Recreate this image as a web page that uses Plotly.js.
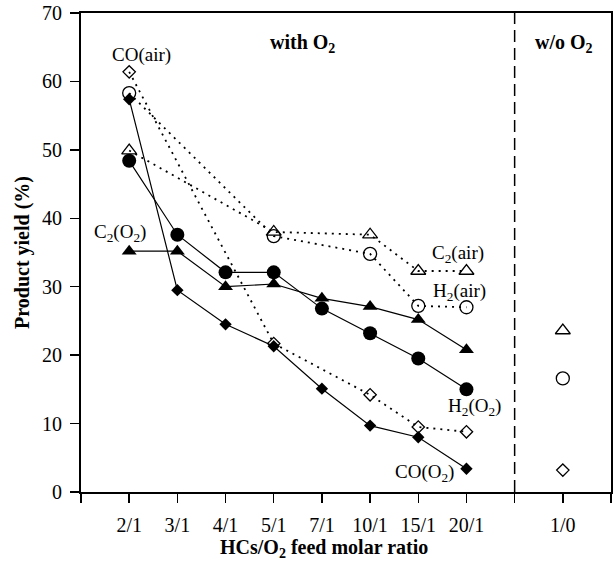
<!DOCTYPE html>
<html>
<head>
<meta charset="utf-8">
<script src="https://cdn.plot.ly/plotly-3.0.1.min.js"></script>
<style>html,body{margin:0;padding:0;background:#fff;}#chart{width:614px;height:561px;}</style>
</head>
<body>
<div id="chart"></div>
<script>
// Category slots on the x axis (spacers have no label)
const slots = ['lead', '2/1', '3/1', '4/1', '5/1', '7/1', '10/1', '15/1', '20/1', 'gap', '1/0', 'tail'];
const slotLabels = ['', '2/1', '3/1', '4/1', '5/1', '7/1', '10/1', '15/1', '20/1', '', '1/0', ''];

// With O2 (filled markers, solid lines)
const ratiosO2 = ['2/1', '3/1', '4/1', '5/1', '7/1', '10/1', '15/1', '20/1'];
const coO2 = [57.4, 29.5, 24.5, 21.3, 15.1, 9.7, 8.0, 3.4];
const h2O2 = [48.4, 37.6, 32.1, 32.1, 26.8, 23.2, 19.5, 15.0];
const c2O2 = [35.2, 35.2, 30.0, 30.4, 28.3, 27.1, 25.2, 20.8];

// With air (open markers, dotted lines)
const ratiosAir = ['2/1', '5/1', '10/1', '15/1', '20/1'];
const coAir = [61.4, 21.7, 14.2, 9.5, 8.8];
const h2Air = [58.3, 37.4, 34.8, 27.2, 27.0];
const c2Air = [49.9, 38.0, 37.6, 32.3, 32.3];

// Without O2
const ratioNoO2 = ['1/0'];
const coNoO2 = [3.2];
const h2NoO2 = [16.6];
const c2NoO2 = [23.6];

// Divider position and y extent
const dividerSlot = 'gap';
const yMin = 0, yMax = 70;

const FONT = "'Liberation Serif', serif";
const dotted = '2px,5px';

function airTrace(y, sym, size) {
  return {x: ratiosAir, y: y, type: 'scatter', mode: 'lines+markers',
    line: {color: '#000', width: 1.8, dash: dotted},
    marker: {symbol: sym, size: size, color: '#000', line: {color: '#000', width: 1.3}},
    showlegend: false, hoverinfo: 'skip', cliponaxis: false};
}
function o2Trace(y, sym, size) {
  return {x: ratiosO2, y: y, type: 'scatter', mode: 'lines+markers',
    line: {color: '#000', width: 1.2},
    marker: {symbol: sym, size: size, color: '#000', line: {width: 0}},
    showlegend: false, hoverinfo: 'skip', cliponaxis: false};
}
function noO2Trace(y, sym, size) {
  return {x: ratioNoO2, y: y, type: 'scatter', mode: 'markers',
    marker: {symbol: sym, size: size, color: '#000', line: {color: '#000', width: 1.3}},
    showlegend: false, hoverinfo: 'skip', cliponaxis: false};
}

const traces = [
  {x: slots, y: slots.map(() => null), type: 'scatter', mode: 'markers', showlegend: false, hoverinfo: 'skip'},
  {x: [dividerSlot, dividerSlot], y: [yMin, yMax], type: 'scatter', mode: 'lines',
    line: {color: '#000', width: 1.5, dash: '12px,6px'}, showlegend: false, hoverinfo: 'skip'},
  airTrace(c2Air, 'triangle-up-open', 13),
  airTrace(h2Air, 'circle-open', 13),
  airTrace(coAir, 'diamond-open', 9.5),
  o2Trace(c2O2, 'triangle-up', 13),
  o2Trace(h2O2, 'circle', 14),
  o2Trace(coO2, 'diamond', 9.5),
  noO2Trace(c2NoO2, 'triangle-up-open', 13),
  noO2Trace(h2NoO2, 'circle-open', 13),
  noO2Trace(coNoO2, 'diamond-open', 9.5)
];

function lab(text, x, y, bold) {
  return {text: bold ? '<b>' + text + '</b>' : text, xref: 'paper', yref: 'paper', x: x, y: y,
    xanchor: 'center', yanchor: 'middle', showarrow: false,
    font: {family: FONT, size: bold ? 20 : 19, color: '#000'}};
}

const layout = {
  width: 614, height: 561,
  margin: {l: 81, r: 3, t: 13, b: 69},
  paper_bgcolor: '#fff', plot_bgcolor: '#fff',
  font: {family: FONT, size: 20, color: '#000'},
  showlegend: false,
  xaxis: {
    type: 'category', categoryorder: 'array', categoryarray: slots,
    range: [0, slots.length - 1],
    tickmode: 'array', tickvals: slots, ticktext: slotLabels,
    ticks: 'outside', ticklen: 9, tickwidth: 1.5, tickcolor: '#000',
    ticklabelstandoff: 5,
    showline: true, linewidth: 2, linecolor: '#000', mirror: true,
    showgrid: false, zeroline: false,
    tickfont: {family: FONT, size: 20, color: '#000'}
  },
  yaxis: {
    range: [yMin, yMax], dtick: 10, tick0: 0,
    ticks: 'outside', ticklen: 9, tickwidth: 1.5, tickcolor: '#000',
    ticklabelstandoff: 4,
    showline: true, linewidth: 2, linecolor: '#000', mirror: true,
    showgrid: false, zeroline: false,
    tickfont: {family: FONT, size: 20, color: '#000'},
    title: {text: '<b>Product yield (%)</b>', font: {family: FONT, size: 20, color: '#000'}, standoff: 7}
  },
  annotations: [
    lab('HCs/O<sub>2</sub> feed molar ratio', 0.458, -0.117, true),
    lab('with O<sub>2</sub>', 0.417, 0.937, true),
    lab('w/o O<sub>2</sub>', 0.911, 0.937, true),
    lab('CO(air)', 0.115, 0.912, false),
    lab('C<sub>2</sub>(O<sub>2</sub>)', 0.074, 0.541, false),
    lab('C<sub>2</sub>(air)', 0.711, 0.497, false),
    lab('H<sub>2</sub>(air)', 0.715, 0.418, false),
    lab('H<sub>2</sub>(O<sub>2</sub>)', 0.743, 0.177, false),
    lab('CO(O<sub>2</sub>)', 0.649, 0.040, false)
  ]
};

Plotly.newPlot('chart', traces, layout, {displayModeBar: false, staticPlot: true});
</script>
</body>
</html>
